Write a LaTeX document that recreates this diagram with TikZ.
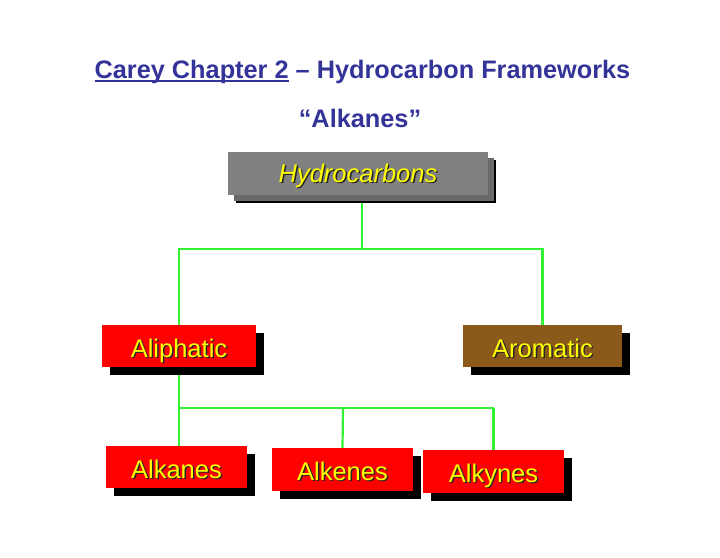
\documentclass[tikz,border=0pt]{standalone}
\usepackage{fontspec}
\setmainfont{Liberation Sans}
\usetikzlibrary{positioning,shadows,backgrounds}
\definecolor{titleblue}{RGB}{51,51,153}
\definecolor{boxgray}{RGB}{128,128,128}
\definecolor{shadegray}{RGB}{105,105,105}
\definecolor{boxred}{RGB}{255,0,0}
\definecolor{boxbrown}{RGB}{139,90,26}
\definecolor{linkgreen}{RGB}{50,240,50}
\definecolor{textyellow}{RGB}{255,255,0}
\newcommand{\shtxt}[1]{\makebox[0pt][l]{\kern1.4pt\raisebox{-1.4pt}{\color{black!85}#1}}{\color{textyellow}#1}}
\newcommand{\ulin}[1]{\setbox0\hbox{#1}\rlap{\rule[-3.2pt]{\wd0}{1.7pt}}\box0\relax}

\begin{document}
\begin{tikzpicture}[x=1pt,y=-1pt,line cap=round,line join=round,
  klasa/.style={rectangle,inner sep=0pt,minimum height=42pt,minimum width=141pt,
    text height=22pt,text depth=0pt,font=\fontsize{25.5}{29}\selectfont,
    general shadow={fill=black,shadow xshift=8pt,shadow yshift=-8pt}},
  link/.style={linkgreen,line width=2.2pt}]
\useasboundingbox (0,0) rectangle (720,557);
% Tytuł slajdu.
\node[font=\fontsize{25.3}{29}\selectfont\bfseries,text=titleblue] (title) at (362.5,72)
  {\ulin{Carey Chapter 2} -- Hydrocarbon Frameworks};
\node[font=\fontsize{25.3}{29}\selectfont\bfseries,text=titleblue] (subtitle) at (360,118)
  {``Alkanes''};
% Drzewo klasyfikacji węglowodorów.
\node[klasa,fill=boxgray,minimum width=260pt,minimum height=43pt,text height=17pt,
  general shadow={fill=shadegray,shadow xshift=6pt,shadow yshift=-6pt}] (hydro) at (358,173.5)
  {\itshape\shtxt{Hydrocarbons}};
\node[klasa,fill=boxred,minimum width=154pt] (aliph) at (179,346) {\shtxt{Aliphatic}};
\node[klasa,fill=boxbrown,minimum width=159pt] (arom) at (542.5,346) {\shtxt{Aromatic}};
\node[klasa,fill=boxred] (alkanes) at (176.5,467) {\shtxt{Alkanes}};
\node[klasa,fill=boxred,minimum height=43pt] (alkenes) at (342.5,469.5) {\shtxt{Alkenes}};
\node[klasa,fill=boxred,minimum height=43pt] (alkynes) at (493.5,471.5) {\shtxt{Alkynes}};
\coordinate (fork1) at (362,249);
\coordinate (fork2) at (343,408);
\begin{scope}[on background layer]
\draw[link] (hydro.south -| fork1) -- (fork1);
\draw[link] (aliph.north) |- (fork1) -| (arom.north);
\draw[link] (aliph.south) -- (aliph.south |- alkanes.north);
\draw[link] (aliph.south |- fork2) -- (fork2 -| alkynes.north);
\draw[link] (fork2) -- (alkenes.north);
\draw[link] (fork2 -| alkynes.north) -- (alkynes.north);
\end{scope}
\end{tikzpicture}
\end{document}
